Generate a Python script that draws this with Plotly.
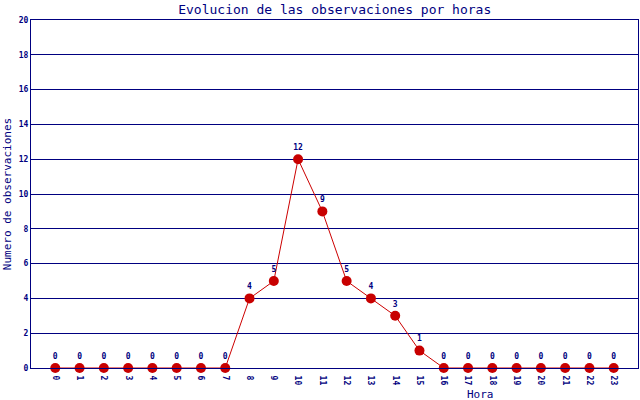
from plotly import graph_objects as go

horas = list(range(24))
observaciones = [0, 0, 0, 0, 0, 0, 0, 0, 4, 5, 12, 9, 5, 4, 3, 1, 0, 0, 0, 0, 0, 0, 0, 0]
y_ticks = list(range(0, 21, 2))

NAVY = "#000080"
RED = "#cc0000"
MONO = "DejaVu Sans Mono, Liberation Mono, monospace"


def main():
    fig = go.Figure()
    fig.add_trace(
        go.Scatter(
            x=horas,
            y=observaciones,
            mode="lines+markers+text",
            line=dict(color=RED, width=1),
            marker=dict(color="#c80000", size=10),
            text=[str(v) for v in observaciones],
            textposition="top center",
            textfont=dict(family=MONO, size=8, color=NAVY, weight="bold"),
            cliponaxis=False,
            showlegend=False,
        )
    )
    fig.update_layout(
        width=640,
        height=400,
        margin=dict(l=31, r=2, t=20, b=32),
        paper_bgcolor="white",
        plot_bgcolor="white",
        font=dict(family=MONO, color=NAVY),
        title=dict(
            text="Evolucion de las observaciones por horas",
            x=0.523,
            xanchor="center",
            y=0.988,
            yanchor="top",
            font=dict(family=MONO, size=13, color=NAVY),
        ),
    )
    # the x title sits right of centre in the original, so place it by hand
    fig.add_annotation(
        text="Hora",
        xref="paper",
        yref="paper",
        x=0.74,
        y=-0.075,
        xanchor="center",
        yanchor="middle",
        showarrow=False,
        font=dict(family=MONO, size=11, color=NAVY),
    )
    fig.update_xaxes(
        range=[-1, 24],
        tickvals=horas,
        ticktext=[str(h) for h in horas],
        tickangle=90,
        tickfont=dict(family=MONO, size=8, color=NAVY, weight="bold"),
        ticklabelstandoff=5,
        automargin=False,
        showgrid=False,
        zeroline=False,
        showline=True,
        linecolor=NAVY,
        linewidth=1,
        mirror=True,
        ticks="",
    )
    fig.update_yaxes(
        range=[0, 20],
        tickvals=y_ticks,
        tickfont=dict(family=MONO, size=8, color=NAVY, weight="bold"),
        automargin=False,
        showgrid=True,
        gridcolor=NAVY,
        gridwidth=1,
        zeroline=False,
        showline=True,
        linecolor=NAVY,
        linewidth=1,
        mirror=True,
        ticks="",
        title=dict(text="Numero de observaciones", font=dict(family=MONO, size=11, color=NAVY), standoff=4),
    )
    # drop the browser's default 8px body margin so the figure sits at the page corner
    fig.write_html(
        "out.html",
        config={"displayModeBar": False},
        post_script="document.body.style.margin='0';",
    )


if __name__ == "__main__":
    main()
